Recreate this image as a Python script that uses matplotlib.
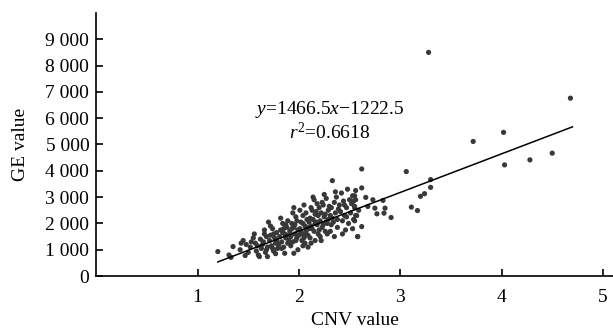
import matplotlib
matplotlib.use("Agg")
import matplotlib.pyplot as plt
import numpy as np

plt.rcParams['font.family'] = ['Liberation Serif', 'DejaVu Serif']
plt.rcParams['mathtext.fontset'] = 'custom'
plt.rcParams['mathtext.rm'] = 'Liberation Serif'
plt.rcParams['mathtext.it'] = 'Liberation Serif:italic'

# ---- data ----
cnv_x = [
    1.20, 1.31, 1.33, 1.35, 1.43, 1.61, 1.69, 1.86, 1.95,
    1.42, 1.45, 1.48, 1.50, 1.47,
    1.52, 1.55, 1.57, 1.58, 1.53, 1.56, 1.59, 1.60,
    1.62, 1.63, 1.65, 1.66, 1.67, 1.68, 1.64, 1.69, 1.70, 1.66, 1.68,
    1.71, 1.72, 1.73, 1.74, 1.75, 1.76, 1.77, 1.78, 1.79, 1.72, 1.75, 1.78, 1.80, 1.74, 1.77,
    1.81, 1.82, 1.83, 1.84, 1.85, 1.86, 1.87, 1.88, 1.89, 1.82, 1.84, 1.87, 1.88, 1.90, 1.83, 1.85, 1.89,
    1.91, 1.92, 1.93, 1.94, 1.95, 1.96, 1.97, 1.98, 1.99, 1.92, 1.94, 1.96, 1.97, 1.98, 2.00, 1.91, 1.93, 1.99, 1.95,
    2.01, 2.02, 2.03, 2.04, 2.05, 2.06, 2.07, 2.08, 2.09, 2.01, 2.03, 2.04, 2.05, 2.06, 2.07, 2.08, 2.09, 2.10, 2.02, 2.06, 2.10, 2.04,
    2.11, 2.12, 2.13, 2.14, 2.15, 2.16, 2.17, 2.18, 2.19, 2.11, 2.12, 2.13, 2.14, 2.15, 2.16, 2.17, 2.18, 2.19, 2.20, 2.12, 2.16, 2.20,
    2.21, 2.22, 2.23, 2.24, 2.25, 2.26, 2.27, 2.28, 2.29, 2.21, 2.23, 2.24, 2.25, 2.26, 2.28, 2.29, 2.30, 2.22, 2.27,
    2.31, 2.32, 2.33, 2.34, 2.35, 2.36, 2.37, 2.38, 2.39, 2.31, 2.33, 2.35, 2.36, 2.38, 2.40, 2.32,
    2.41, 2.42, 2.43, 2.44, 2.45, 2.46, 2.47, 2.48, 2.49, 2.43, 2.45, 2.47, 2.50,
    2.51, 2.52, 2.53, 2.54, 2.55, 2.56, 2.57, 2.58, 2.59, 2.53, 2.56,
    2.55, 2.55, 2.56, 2.55, 2.54,
    2.62, 2.62, 2.66, 2.73, 2.83, 2.68, 2.75, 2.85, 2.77, 2.84, 2.91, 2.62, 2.58,
    3.06, 3.30, 3.30, 3.24, 3.20, 3.11, 3.17, 3.28,
    3.72, 4.02, 4.03, 4.28, 4.50, 4.68,
]
ge_y = [
    930, 800, 710, 1120, 1250, 740, 740, 865, 865,
    1000, 1350, 1200, 900, 780,
    1100, 1450, 1250, 950, 1300, 1600, 1150, 800,
    1400, 1050, 1300, 1750, 900, 1500, 1200, 1100, 2050, 1600, 1000,
    1350, 1550, 1150, 1800, 950, 1450, 1250, 1650, 1050, 1900, 1600, 1350, 1200, 1050, 850,
    1500, 1750, 1300, 2000, 1100, 1600, 1450, 1850, 1250, 2200, 1650, 1950, 1550, 1350, 1050, 1800, 2100,
    1700, 1500, 2000, 1300, 1850, 1600, 2250, 1450, 1750, 1150, 2400, 1950, 1350, 2100, 1550, 1250, 1800, 1000, 2600,
    1800, 2050, 1600, 2300, 1450, 1900, 1700, 2150, 1550, 2500, 1350, 2000, 2700, 1250, 2400, 1850, 1100, 2050, 1700, 1550, 1800, 1150,
    2200, 1900, 2500, 3000, 1700, 2350, 2050, 2750, 1600, 1450, 2600, 1800, 2150, 2900, 1350, 2450, 1950, 2300, 1750, 1250, 2000, 2600,
    2100, 2400, 1850, 2700, 2250, 1700, 2950, 2000, 2500, 1500, 2800, 1950, 3100, 2350, 1600, 2150, 2650, 1350, 2050,
    2300, 2600, 3625, 2050, 2800, 2400, 3000, 1850, 2550, 1700, 2200, 1500, 3200, 2150, 2700, 1950,
    2450, 3155, 2100, 2850, 2300, 1750, 2600, 3300, 2000, 1600, 2700, 2250, 2900,
    2400, 2750, 3050, 2150, 2600, 2900, 2300, 1500, 2500, 1800, 3250,
    3050, 2650, 2300, 2100, 2850,
    4070, 3350, 2990, 2900, 2875, 2645, 2580, 2580, 2365, 2390, 2225, 1880, 1500,
    3970, 3665, 3370, 3130, 3030, 2620, 2490, 8500,
    5115, 5460, 4225, 4415, 4670, 6760,
]
slope = 1466.5
intercept = -1222.5
r2 = 0.6618
fit_x_range = [1.2, 4.7]
x_ticks = [1, 2, 3, 4, 5]
y_ticks = [0, 1000, 2000, 3000, 4000, 5000, 6000, 7000, 8000, 9000]
y_tick_labels = ['0', '1 000', '2 000', '3 000', '4 000', '5 000',
                 '6 000', '7 000', '8 000', '9 000']

fig = plt.figure(figsize=(6.13, 3.31), dpi=100)
ax = fig.add_axes([0.157, 0.166, 0.843, 0.795])

ax.scatter(cnv_x, ge_y, s=14, color='#383838', edgecolors='none', zorder=2)
fx = np.array(fit_x_range)
ax.plot(fx, slope * fx + intercept, color='black', lw=1.1, zorder=3)

ax.text(2.30, 6335, r'$y$=1466.5$x$$-$1222.5', ha='center', va='center', fontsize=14)
ax.text(2.30, 5460, r'$r^2$=0.6618', ha='center', va='center', fontsize=14)

ax.set_xlim(0, 5.1)
ax.set_ylim(0, 10000)
ax.set_xticks(x_ticks)
ax.set_yticks(y_ticks)
ax.set_yticklabels(y_tick_labels)
ax.tick_params(direction='in', length=5, width=1.2, labelsize=14)
ax.tick_params(axis='x', pad=9)
ax.tick_params(axis='y', pad=5)
for s in ['top', 'right']:
    ax.spines[s].set_visible(False)
for s in ['left', 'bottom']:
    ax.spines[s].set_linewidth(1.2)
ax.set_xlabel('CNV value', fontsize=14, labelpad=5)
ax.set_ylabel('GE value', fontsize=14, labelpad=12)

fig.savefig('out.png', dpi=100)
